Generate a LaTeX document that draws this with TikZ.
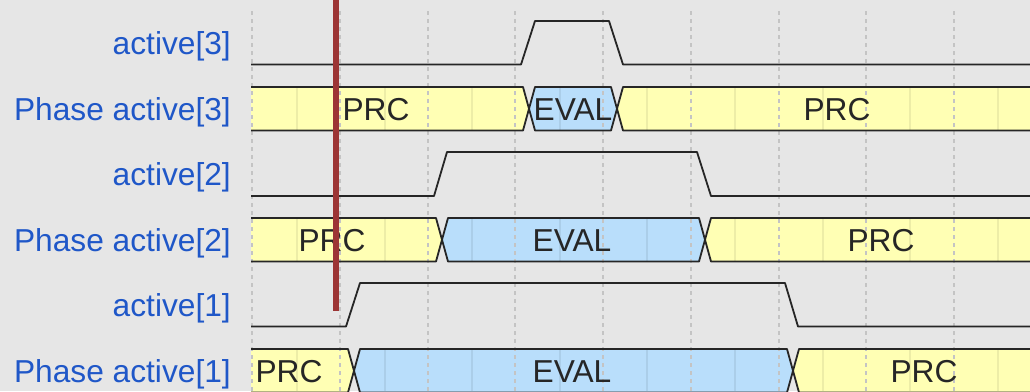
\documentclass[tikz,border=0pt]{standalone}
\usepackage{fontspec}
\setmainfont{Liberation Sans}
\usetikzlibrary{calc}

\definecolor{bgray}{HTML}{E6E6E6}
\definecolor{prcfill}{HTML}{FFFFB4}
\definecolor{evalfill}{HTML}{B9DEFB}
\definecolor{sigblue}{HTML}{1F57C8}
\definecolor{cursor}{HTML}{9C3535}
\definecolor{gridgray}{HTML}{C4C4C4}

\begin{document}
\begin{tikzpicture}[x=1pt,y=-1pt,
	wire/.style={draw=black!85,line width=1.8pt,line join=round},
	prc/.style={fill=prcfill},
	evl/.style={fill=evalfill},
	lbl/.style={anchor=base east,inner sep=0pt,text=sigblue,font=\fontsize{31.7}{36}\selectfont},
	val/.style={anchor=base,inner sep=0pt,text=black!85,font=\fontsize{31.7}{36}\selectfont},
	tick/.style={draw=gridgray,line width=1.4pt,dash pattern=on 4pt off 4pt},
	halftick/.style={draw=black,opacity=0.07,line width=1.2pt}]
	\useasboundingbox (0,0) rectangle (1030,391);
	\fill[bgray] (0,0) rectangle (1030,391);

	% signal names
	\node (n3) [lbl] at (231,54) {active[3]};
	\node (p3) [lbl] at (231,120) {Phase active[3]};
	\node (n2) [lbl] at (231,185) {active[2]};
	\node (p2) [lbl] at (231,251) {Phase active[2]};
	\node (n1) [lbl] at (231,316) {active[1]};
	\node (p1) [lbl] at (231,382) {Phase active[1]};

	% phase bands: PRC -> EVAL -> PRC
	\fill[prc] (251,87) -- (523,87) -- (529,108.75) -- (523,130.5) -- (251,130.5) -- cycle;
	\fill[evl] (529,108.75) -- (535,87) -- (611,87) -- (617,108.75) -- (611,130.5) -- (535,130.5) -- cycle;
	\fill[prc] (617,108.75) -- (623,87) -- (1030,87) -- (1030,130.5) -- (623,130.5) -- cycle;

	\fill[prc] (251,218) -- (436,218) -- (442,239.75) -- (436,261.5) -- (251,261.5) -- cycle;
	\fill[evl] (442,239.75) -- (448,218) -- (699,218) -- (705,239.75) -- (699,261.5) -- (448,261.5) -- cycle;
	\fill[prc] (705,239.75) -- (711,218) -- (1030,218) -- (1030,261.5) -- (711,261.5) -- cycle;

	\fill[prc] (251,349) -- (348,349) -- (354,370.75) -- (348,392.5) -- (251,392.5) -- cycle;
	\fill[evl] (354,370.75) -- (360,349) -- (787,349) -- (793,370.75) -- (787,392.5) -- (360,392.5) -- cycle;
	\fill[prc] (793,370.75) -- (799,349) -- (1030,349) -- (1030,392.5) -- (799,392.5) -- cycle;

	% half steps inside the bands
	\foreach \x in {297,385,472,560,647,735,823,910,998} {
		\draw[halftick] (\x,87) -- (\x,130.5);
		\draw[halftick] (\x,218) -- (\x,261.5);
		\draw[halftick] (\x,349) -- (\x,391);
	}

	% time grid
	\foreach \x in {252,340,428,515,603,691,779,866,954}
		\draw[tick] (\x,11) -- (\x,391);

	% band outlines
	\draw[wire] (251,87) -- (523,87) -- (535,130.5) -- (611,130.5) -- (623,87) -- (1031,87);
	\draw[wire] (251,130.5) -- (523,130.5) -- (535,87) -- (611,87) -- (623,130.5) -- (1031,130.5);
	\draw[wire] (251,218) -- (436,218) -- (448,261.5) -- (699,261.5) -- (711,218) -- (1031,218);
	\draw[wire] (251,261.5) -- (436,261.5) -- (448,218) -- (699,218) -- (711,261.5) -- (1031,261.5);
	\draw[wire] (251,349) -- (348,349) -- (360,392.5) -- (787,392.5) -- (799,349) -- (1031,349);
	\draw[wire] (251,392.5) -- (348,392.5) -- (360,349) -- (787,349) -- (799,392.5) -- (1031,392.5);

	% phase values
	\node (v3a) [val] at (376,120) {PRC};
	\node (v3b) [val] at (573,120) {EVAL};
	\node (v3c) [val] at (837,120) {PRC};
	\node (v2a) [val] at (332,251) {PRC};
	\node (v2b) [val] at (572,251) {EVAL};
	\node (v2c) [val] at (881,251) {PRC};
	\node (v1a) [val] at (289,382) {PRC};
	\node (v1b) [val] at (572,382) {EVAL};
	\node (v1c) [val] at (924,382) {PRC};

	% active waveforms
	\draw[wire] (251,64.5) -- (521,64.5) -- (535,21) -- (609,21) -- (623,64.5) -- (1031,64.5);
	\draw[wire] (251,196) -- (434,196) -- (447,152) -- (697,152) -- (711,196) -- (1031,196);
	\draw[wire] (251,326.5) -- (346,326.5) -- (360,283) -- (785,283) -- (798,326.5) -- (1031,326.5);

	% time cursor
	\draw[cursor,line width=6pt] (336,-1) -- (336,311);
\end{tikzpicture}
\end{document}
